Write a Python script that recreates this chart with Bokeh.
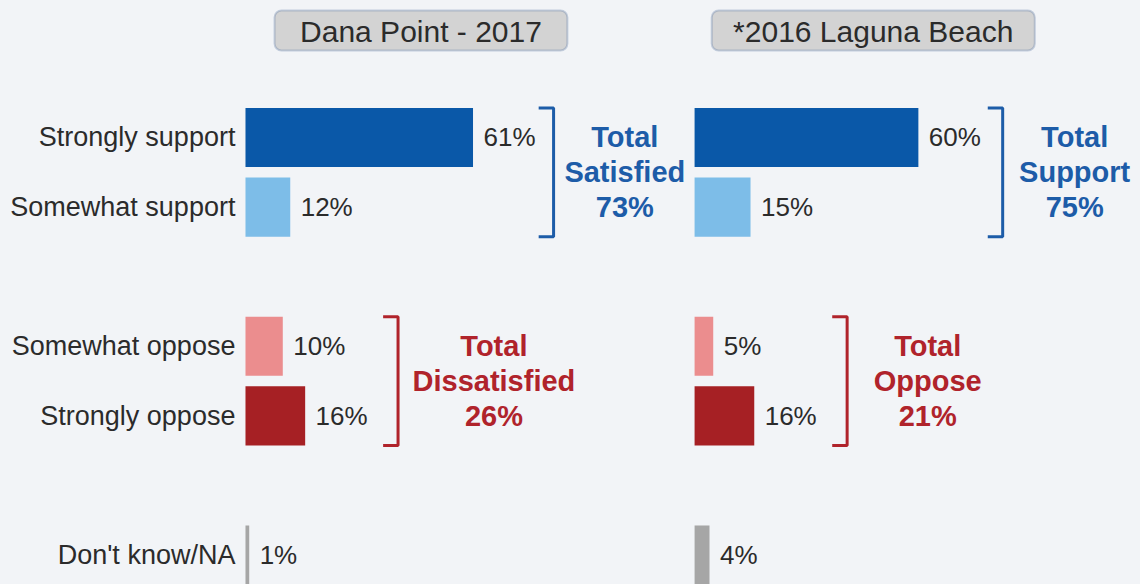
from bokeh.plotting import figure
from bokeh.models import ColumnDataSource, Range1d, BoxAnnotation, Label
from bokeh.core.properties import value
from bokeh.embed import file_html
from bokeh.resources import INLINE

# ---------------- data ----------------
categories = ["Strongly support", "Somewhat support", "Somewhat oppose",
              "Strongly oppose", "Don't know/NA"]
dana_2017 = [61, 12, 10, 16, 1]
laguna_2016 = [60, 15, 5, 16, 4]
panel_titles = ["Dana Point - 2017", "*2016 Laguna Beach"]
dana_totals = [("Satisfied", 73), ("Dissatisfied", 26)]
laguna_totals = [("Support", 75), ("Oppose", 21)]

# ---------------- layout / style ----------------
row_pos = [0, -1, -3, -4, -6]
bar_colors = ["#0a58a8", "#7dbde8", "#eb8d8e", "#a62024", "#a6a6a6"]
group_rows = [(0, 1), (2, 3)]
group_colors = ["#1d5ca8", "#b0232b"]
text_color = "#2b2b2b"
bg = "#f2f4f7"
FONT = "Liberation Sans"
panel_offsets = [0.0, 120.4]
bracket_x = [82.6, 40.9]
total_x = [[101.7, 66.6], [101.9, 62.5]]
bar_h = 0.85
tick = 4.0

p = figure(width=1140, height=584,
           x_range=Range1d(-65.68, 239.95), y_range=Range1d(-6.423, 1.968),
           output_backend="svg", toolbar_location=None, min_border=0,
           x_axis_location=None, y_axis_location=None,
           background_fill_color=bg, border_fill_color=bg,
           outline_line_color=None)
p.grid.visible = False

# category labels
p.text(x=[-2.7] * len(categories), y=row_pos, text=categories,
       text_align="right", text_baseline="middle",
       text_font=value(FONT), text_font_size="27px", text_color=text_color)

panels = [dana_2017, laguna_2016]
totals = [dana_totals, laguna_totals]
for k, vals in enumerate(panels):
    off = panel_offsets[k]
    src = ColumnDataSource(dict(
        y=row_pos,
        left=[off] * len(vals),
        right=[off + v for v in vals],
        color=bar_colors,
        lx=[off + v + 2.8 for v in vals],
        lbl=[f"{v}%" for v in vals],
    ))
    p.hbar(y="y", left="left", right="right", height=bar_h,
           fill_color="color", line_color=None, source=src)
    p.text(x="lx", y="y", text="lbl", source=src,
           text_align="left", text_baseline="middle",
           text_font=value(FONT), text_font_size="26px", text_color=text_color)

    # brackets and totals
    for g, (a, b) in enumerate(group_rows):
        col = group_colors[g]
        top = row_pos[a] + bar_h / 2
        bot = row_pos[b] - bar_h / 2
        bx = off + bracket_x[g]
        p.line(x=[bx - tick, bx, bx, bx - tick], y=[top, top, bot, bot],
               line_color=col, line_width=3)
        word, tot = totals[k][g]
        tx = off + total_x[k][g]
        ymid = (row_pos[a] + row_pos[b]) / 2
        p.text(x=[tx] * 3, y=[row_pos[a], ymid, row_pos[b]],
               text=["Total", word, f"{tot}%"],
               text_align="center", text_baseline="middle",
               text_font=value(FONT), text_font_size="29px",
               text_font_style="bold", text_color=col)

    # panel title box
    box_l = [7.8, 4.6][k]
    box_r = [86.3, 91.2][k]
    p.add_layout(BoxAnnotation(left=off + box_l, right=off + box_r,
                               top=1.824, bottom=1.250, border_radius=7,
                               fill_color="#d3d3d3", fill_alpha=1.0,
                               line_color="#52729e", line_width=2))
    p.add_layout(Label(x=off + (box_l + box_r) / 2, y=1.525,
                       text=panel_titles[k], text_align="center",
                       text_baseline="middle", text_font=FONT,
                       text_font_size="30px", text_color=text_color))

html = file_html(p, INLINE)
html = html.replace("<head>", "<head><style>body{background:#f2f4f7;}</style>", 1)
open("out.html", "w").write(html)
